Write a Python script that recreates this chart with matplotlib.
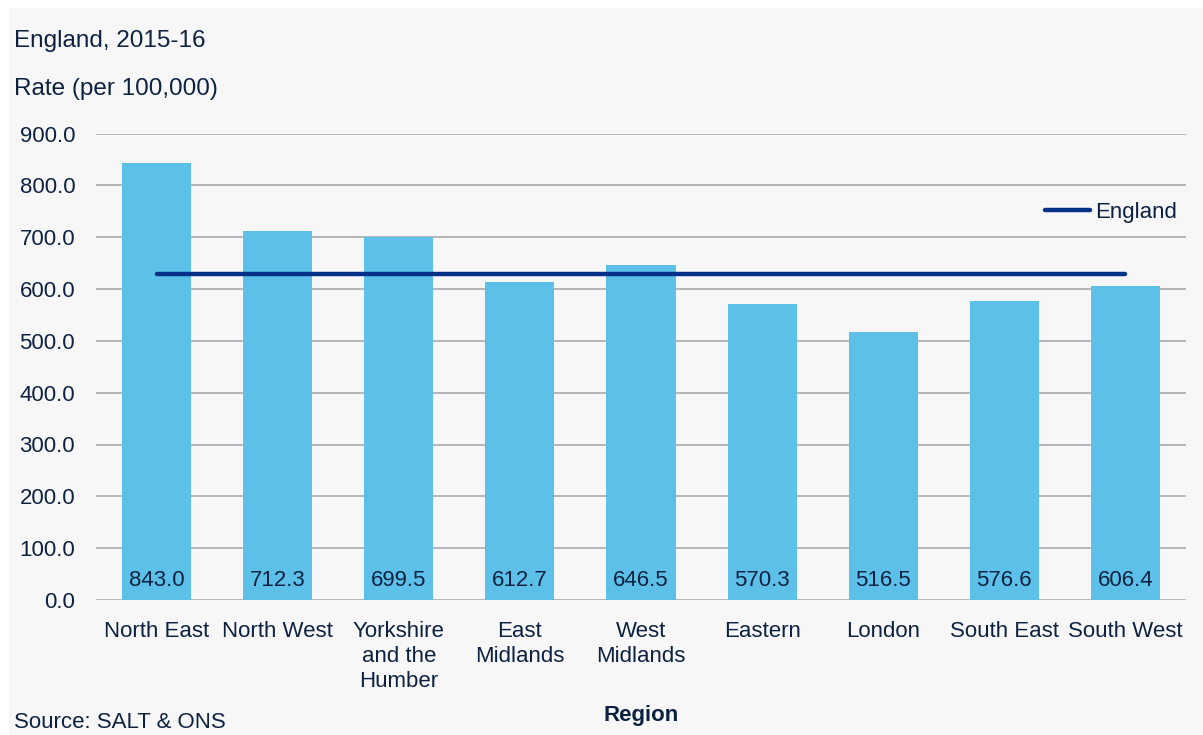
import numpy as np
import matplotlib
matplotlib.use("Agg")
import matplotlib.pyplot as plt
from matplotlib.patches import Rectangle

plt.rcParams['font.family'] = ['Liberation Sans', 'DejaVu Sans']

# Data
regions = ["North East", "North West", "Yorkshire\nand the\nHumber", "East\nMidlands",
           "West\nMidlands", "Eastern", "London", "South East", "South West"]
rates = [843.0, 712.3, 699.5, 612.7, 646.5, 570.3, 516.5, 576.6, 606.4]
england_rate = 628.4
yticks = [0, 100, 200, 300, 400, 500, 600, 700, 800, 900]

text_col = "#0d2240"
bar_col = "#5dc0e9"
line_col = "#003087"
grid_col = "#b8b5ba"
bg_col = "#f7f7f7"

W, H = 1203, 735
fig = plt.figure(figsize=(W / 100, H / 100), dpi=100, facecolor="white")

# light grey panel behind the chart
fig.patches.append(Rectangle((9 / W, 0), 1 - 9 / W, 1 - 8 / H, transform=fig.transFigure,
                             facecolor=bg_col, edgecolor="none", zorder=-10))

left, right = 96 / W, 1186 / W
bottom, top = 1 - 600 / H, 1 - 133.5 / H
ax = fig.add_axes([left, bottom, right - left, top - bottom])
ax.set_facecolor(bg_col)

x = np.arange(len(regions))
ax.bar(x, rates, width=0.57, color=bar_col, zorder=2)
ax.plot(x, [england_rate] * len(x), color=line_col, lw=3.2, solid_capstyle="round",
        zorder=3, label="England")

for xi, v in zip(x, rates):
    ax.annotate(f"{v:.1f}", (xi, 0), xytext=(0, 14), textcoords="offset points",
                ha="center", va="center", fontsize=16, color=text_col, zorder=4)

ax.set_xlim(-0.5, len(regions) - 0.5)
ax.set_ylim(0, 900)
ax.set_yticks(yticks)
ax.set_yticklabels([f"{t:.1f}" for t in yticks])
ax.yaxis.grid(True, color=grid_col, lw=1.4, zorder=1)
ax.set_axisbelow(True)
for s in ax.spines.values():
    s.set_visible(False)
ax.tick_params(axis="y", length=0, pad=15, labelsize=16, labelcolor=text_col)
ax.set_xticks(x)
ax.set_xticklabels(regions, linespacing=1.24)
ax.tick_params(axis="x", length=0, pad=15, labelsize=16, labelcolor=text_col)

ax.legend(loc="upper right", bbox_to_anchor=(1197 / W, 1 - 182 / H),
          bbox_transform=fig.transFigure, frameon=False, fontsize=16,
          handlelength=2.0, handletextpad=0.25, labelcolor=text_col)

fig.text(14 / W, 1 - 41 / H, "England, 2015-16", ha="left", va="center",
         fontsize=17.5, color=text_col)
fig.text(14 / W, 1 - 89 / H, "Rate (per 100,000)", ha="left", va="center",
         fontsize=17.5, color=text_col)
fig.text((left + right) / 2, 1 - 715 / H, "Region", ha="center", va="center",
         fontsize=16, fontweight="bold", color=text_col)
fig.text(14 / W, 1 - 723 / H, "Source: SALT & ONS", ha="left", va="center",
         fontsize=16, color=text_col)

fig.savefig("out.png", dpi=100, facecolor=fig.get_facecolor())
